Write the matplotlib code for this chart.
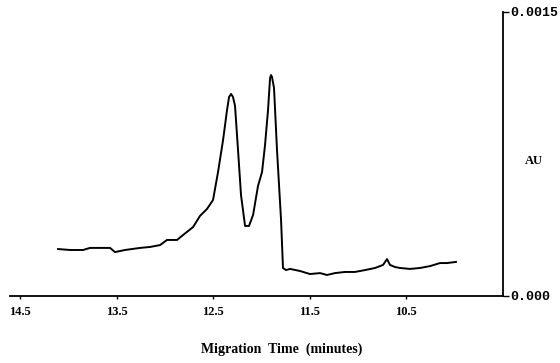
import matplotlib
matplotlib.use("Agg")
import matplotlib.pyplot as plt

# Migration time (minutes) and absorbance (AU)
time_min = [14.106, 13.982, 13.847, 13.775, 13.671, 13.567, 13.516, 13.412, 13.256, 13.153,
            13.049, 12.977, 12.873, 12.811, 12.707, 12.635, 12.562, 12.500, 12.448, 12.396,
            12.355, 12.334, 12.313, 12.293, 12.272, 12.241, 12.210, 12.168, 12.127, 12.085,
            12.034, 11.992, 11.961, 11.930, 11.909, 11.899, 11.889, 11.868, 11.837, 11.795,
            11.775, 11.744, 11.702, 11.598, 11.495, 11.391, 11.319, 11.236, 11.132, 11.029,
            10.925, 10.821, 10.738, 10.697, 10.666, 10.614, 10.562, 10.459, 10.355, 10.251,
            10.148, 10.075, 9.982]
au_e4 = [2.48, 2.43, 2.43, 2.54, 2.54, 2.54, 2.32, 2.43, 2.54, 2.59,
         2.69, 2.96, 2.96, 3.22, 3.64, 4.23, 4.60, 5.07, 6.55, 8.24,
         9.82, 10.51, 10.67, 10.51, 10.04, 7.71, 5.33, 3.70, 3.70, 4.28,
         5.81, 6.55, 7.98, 9.82, 11.51, 11.67, 11.57, 10.99, 7.71, 4.01,
         1.48, 1.37, 1.43, 1.32, 1.16, 1.21, 1.11, 1.21, 1.27, 1.27,
         1.37, 1.48, 1.64, 1.95, 1.64, 1.53, 1.48, 1.43, 1.48, 1.58,
         1.74, 1.74, 1.80]
absorbance = [v * 1e-4 for v in au_e4]

x_ticks = [14.5, 13.5, 12.5, 11.5, 10.5]
x_tick_labels = ["14.5", "13.5", "12.5", "11.5", "10.5"]
y_ticks = [0.0, 0.0015]
y_tick_labels = ["0.000", "0.0015"]

serif = "Liberation Serif"
mono = "Liberation Mono"

fig = plt.figure(figsize=(5.6, 3.63), dpi=100)
ax = fig.add_axes([10 / 560, 67 / 363, 493 / 560, 284 / 363])

ax.plot(time_min, absorbance, color="black", linewidth=1.4, solid_joinstyle="round")

ax.set_xlim(14.604, 9.495)
ax.set_ylim(0, 0.0015)

for s in ["left", "top"]:
    ax.spines[s].set_visible(False)
ax.spines["bottom"].set_linewidth(1.3)
ax.spines["right"].set_linewidth(1.3)

ax.set_xticks(x_ticks)
ax.set_xticklabels(x_tick_labels, fontsize=9, fontweight="bold", family=serif)
ax.tick_params(axis="x", length=2.5, width=1.0, pad=5, direction="out")

ax.yaxis.tick_right()
ax.set_yticks(y_ticks)
ax.set_yticklabels(y_tick_labels, fontsize=9.5, fontweight="bold", family=mono)
ax.tick_params(axis="y", length=4, width=1.0, pad=1, direction="out")

ax.yaxis.set_label_position("right")
ax.set_ylabel("AU", rotation=0, fontsize=9, fontweight="bold", family=serif)
ax.yaxis.set_label_coords(1.062, 0.495)

ax.set_xlabel("Migration  Time  (minutes)", fontsize=10, fontweight="bold", family=serif)
ax.xaxis.set_label_coords(0.552, -0.165)

fig.savefig("out.png", dpi=100)
